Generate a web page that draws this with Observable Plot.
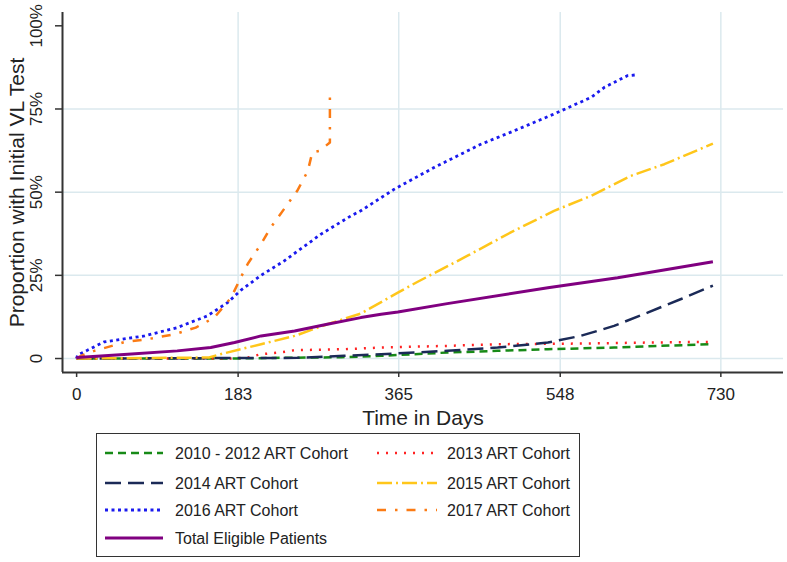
<!DOCTYPE html>
<html>
<head>
<meta charset="utf-8">
<script src="https://cdn.jsdelivr.net/npm/d3@7"></script>
<script src="https://cdn.jsdelivr.net/npm/@observablehq/plot@0.6"></script>
<style>
  body { margin: 0; background: #fff; font-family: "Liberation Sans", Arial, sans-serif; }
  #wrap { position: relative; width: 787px; height: 562px; }
  #legend { position: absolute; left: 96px; top: 433px; width: 484px; height: 124px; border: 1.5px solid #333; box-sizing: border-box; }
</style>
</head>
<body>
<div id="wrap"><div id="chart"></div><div id="legend"></div></div>
<script>
// ---- data ----
const seriesNames = ["2010 - 2012 ART Cohort", "2013 ART Cohort", "2014 ART Cohort", "2015 ART Cohort", "2016 ART Cohort", "2017 ART Cohort", "Total Eligible Patients"];

const c1012Days = [0, 180, 230, 300, 345, 420, 477, 534, 609, 660, 721];
const c1012Pct  = [0, 0, 0.2, 0.4, 0.8, 1.8, 2.3, 2.8, 3.3, 3.8, 4.3];

const c2013Days = [0, 175, 194, 209, 230, 247, 303, 345, 420, 477, 571, 647, 716];
const c2013Pct  = [0, 0, 0.3, 1.3, 1.8, 2.5, 2.8, 3.3, 3.8, 4.3, 4.5, 4.8, 5.0];

const c2014Days = [0, 250, 303, 345, 420, 477, 534, 571, 609, 647, 685, 721];
const c2014Pct  = [0, 0.2, 0.8, 1.3, 2.3, 3.3, 4.8, 6.8, 9.8, 13.8, 17.9, 21.9];

const c2015Days = [0, 150, 163, 209, 247, 284, 322, 364, 386, 443, 492, 541, 583, 628, 666, 721];
const c2015Pct  = [0, 0.3, 1.3, 4.3, 6.8, 10.3, 13.5, 19.8, 23.0, 30.9, 37.9, 44.4, 48.9, 54.9, 58.4, 64.6];

const c2016Days = [0, 1, 31, 77, 114, 148, 171, 186, 209, 235, 277, 311, 322, 360, 405, 458, 500, 541, 583, 598, 624, 636];
const c2016Pct  = [0, 1.0, 5.0, 6.8, 9.3, 12.8, 16.8, 20.5, 25.0, 29.3, 37.4, 42.9, 44.4, 50.9, 57.4, 64.4, 68.9, 73.5, 78.5, 81.5, 85.0, 85.3];

const c2017Days = [0, 5, 20, 40, 55, 80, 111, 135, 156, 175, 186, 194, 209, 220, 235, 250, 262, 267, 275, 287, 287];
const c2017Pct  = [0, 0.8, 2.3, 3.8, 5.0, 5.8, 7.3, 9.3, 12.3, 18.3, 24.3, 28.5, 34.4, 39.4, 44.9, 50.4, 56.4, 61.9, 62.4, 64.9, 78.5];

const totalDays = [0, 1, 58, 114, 152, 179, 209, 247, 284, 322, 345, 364, 420, 534, 613, 647, 721];
const totalPct  = [0, 0.3, 1.3, 2.3, 3.3, 4.8, 6.8, 8.3, 10.3, 12.3, 13.3, 14.0, 16.5, 21.3, 24.3, 25.8, 29.1];

const xTicks = [0, 183, 365, 548, 730];
const yTicks = [0, 25, 50, 75, 100];
const yTickLabels = ["0", "25%", "50%", "75%", "100%"];

// ---- styles ----
const colors = ["#178a17", "#ff2222", "#1b2a57", "#ffc61a", "#1a1aee", "#fb7b14", "#800080"];
const dashes = ["8,5", "2,7", "16,7", "15,4,2,4", "3,3.5", "9,9,2.5,9", null];
const widths = [2.5, 2.5, 2.5, 2.5, 2.8, 2.5, 3];

const allDays = [c1012Days, c2013Days, c2014Days, c2015Days, c2016Days, c2017Days, totalDays];
const allPct  = [c1012Pct, c2013Pct, c2014Pct, c2015Pct, c2016Pct, c2017Pct, totalPct];

const series = seriesNames.map((name, i) => allDays[i].map((d, j) => ({name, day: d, pct: allPct[i][j]})));

const xDomain = [-16, 801];
const yDomain = [-4.2, 104];

const lineMarks = series.map((data, i) => Plot.line(data, {
  x: "day", y: "pct", stroke: colors[i], strokeWidth: widths[i],
  strokeDasharray: dashes[i] || undefined, strokeLinecap: "butt"
}));

const plot = Plot.plot({
  width: 787, height: 430,
  marginLeft: 62, marginRight: 4, marginTop: 12, marginBottom: 58,
  style: { fontFamily: "Liberation Sans, Arial, sans-serif", fontSize: "17px", color: "#222", background: "#fff" },
  x: { domain: xDomain, label: null },
  y: { domain: yDomain, label: null },
  marks: [
    Plot.gridX(xTicks.filter(d => d > 0), { stroke: "#dbe9ee", strokeOpacity: 1, strokeWidth: 1.5 }),
    Plot.gridY(yTicks.filter(d => d < 100), { stroke: "#dbe9ee", strokeOpacity: 1, strokeWidth: 1.5 }),
    ...lineMarks,
    Plot.ruleX([xDomain[0]], { stroke: "#333", strokeWidth: 2 }),
    Plot.ruleY([yDomain[0]], { stroke: "#333", strokeWidth: 2 }),
    Plot.axisX({ ticks: xTicks, tickSize: 5, tickPadding: 10, stroke: "#333", strokeWidth: 1.5, fill: "#222", label: null, fontSize: 17 }),
    Plot.axisY({ ticks: yTicks, tickSize: 7, tickFormat: () => "", stroke: "#333", strokeWidth: 1.5, label: null }),
    Plot.text(yTicks, { y: d => d, frameAnchor: "left", dx: -26, rotate: -90, text: (d, i) => yTickLabels[i], fontSize: 17, fill: "#222", textAnchor: "middle", lineAnchor: "middle" }),
    Plot.text(["Time in Days"], { frameAnchor: "bottom", dy: 46, text: d => d, fontSize: 21, fill: "#222", textAnchor: "middle", lineAnchor: "middle" }),
    Plot.text(["Proportion with Initial VL Test"], { frameAnchor: "left", dx: -45, rotate: -90, text: d => d, fontSize: 21, fill: "#222", textAnchor: "middle", lineAnchor: "middle" })
  ]
});
document.getElementById("chart").appendChild(plot);

// ---- legend ----
const legendOrder = [[0, 0, 0], [1, 1, 0], [2, 0, 1], [3, 1, 1], [4, 0, 2], [5, 1, 2], [6, 0, 3]];
const colX = [[8, 66, 78], [280, 340, 350]];
const rowY = [19, 49, 76, 104];
const svg = d3.select("#legend").append("svg").attr("width", 482).attr("height", 122)
  .style("font-family", "Liberation Sans, Arial, sans-serif");
legendOrder.forEach(([i, c, r]) => {
  const [x1, x2, tx] = colX[c];
  svg.append("line").attr("x1", x1).attr("x2", x2).attr("y1", rowY[r]).attr("y2", rowY[r])
    .attr("stroke", colors[i]).attr("stroke-width", widths[i])
    .attr("stroke-dasharray", dashes[i]).attr("stroke-linecap", "butt");
  svg.append("text").attr("x", tx).attr("y", rowY[r]).attr("dy", "0.35em")
    .attr("font-size", 16).attr("fill", "#222").text(seriesNames[i]);
});
</script>
</body>
</html>
